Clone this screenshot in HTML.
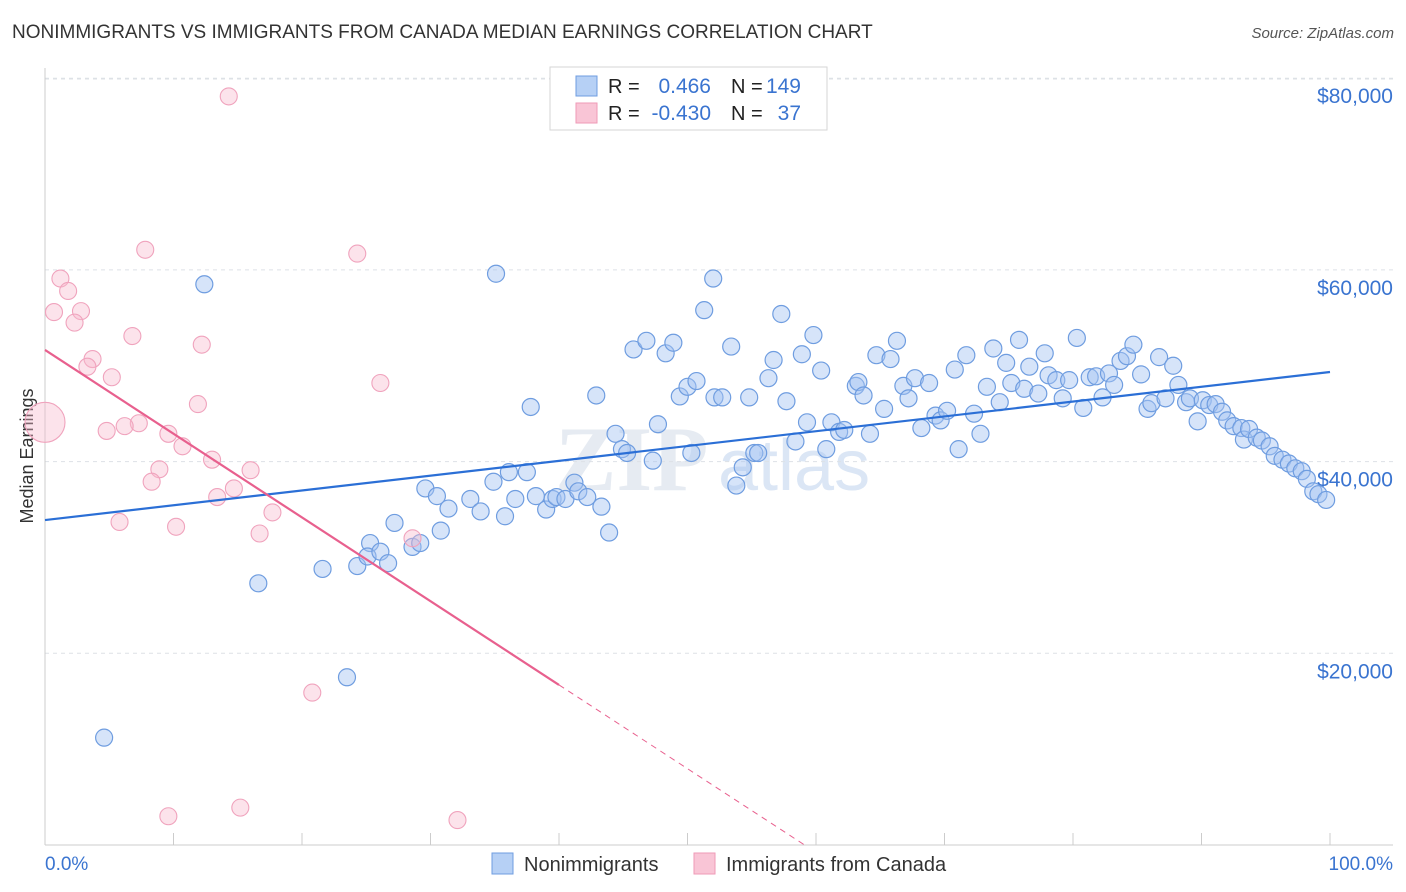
<!DOCTYPE html>
<html><head><meta charset="utf-8"><style>
body{margin:0;background:#fff;font-family:"Liberation Sans",sans-serif;}
#wrap{position:relative;width:1406px;height:892px;overflow:hidden;}
.t{position:absolute;white-space:nowrap;}
</style></head><body>
<div id="wrap">
<div class="t" style="left:12px;top:22px;font-size:19px;color:#333;">NONIMMIGRANTS VS IMMIGRANTS FROM CANADA MEDIAN EARNINGS CORRELATION CHART</div>
<div class="t" style="right:12px;top:25px;font-size:15px;color:#555;font-style:italic">Source: ZipAtlas.com</div>
<svg id="svg" width="1406" height="892" style="position:absolute;left:0;top:0"></svg>
</div>
<script>
const xTicks=[0,10,20,30,40,50,60,70,80,90,100];
const yTicks=[20000,40000,60000,80000];
const yTickLabels=["$20,000","$40,000","$60,000","$80,000"];
const blueX=[4.6,12.4,16.6,21.6,23.5,24.3,25.3,25.1,26.1,26.7,27.2,28.6,29.2,29.6,30.5,30.8,31.4,33.1,33.9,34.9,35.1,35.8,36.1,36.6,37.5,37.8,38.2,39.0,39.5,39.8,40.5,41.2,41.5,42.2,43.3,43.9,42.9,44.4,44.9,45.3,45.8,46.8,47.3,47.7,48.3,48.9,49.4,50.0,50.3,50.7,51.3,52.0,52.1,52.7,53.4,53.8,54.3,54.8,55.2,55.5,56.3,56.7,57.3,57.7,58.4,58.9,59.3,59.8,60.4,60.8,61.2,61.8,62.2,63.1,63.3,63.7,64.2,64.7,65.3,65.8,66.3,66.8,67.2,67.7,68.2,68.8,69.3,69.7,70.2,70.8,71.1,71.7,72.3,72.8,73.3,73.8,74.3,74.8,75.2,75.8,76.2,76.6,77.3,77.8,78.1,78.7,79.2,79.7,80.3,80.8,81.3,81.8,82.3,82.8,83.2,83.7,84.2,84.7,85.3,85.8,86.1,86.7,87.2,87.8,88.2,88.8,89.1,89.7,90.1,90.6,91.1,91.6,92.0,92.5,93.1,93.3,93.7,94.3,94.7,95.3,95.7,96.3,96.8,97.3,97.8,98.2,98.7,99.1,99.7];
const blueY=[11.2,58.5,27.3,28.8,17.5,29.1,31.5,30.1,30.6,29.4,33.6,31.1,31.5,37.2,36.4,32.8,35.1,36.1,34.8,37.9,59.6,34.3,38.9,36.1,38.9,45.7,36.4,35.0,36.1,36.3,36.1,37.8,36.9,36.3,35.3,32.6,46.9,42.9,41.3,40.9,51.7,52.6,40.1,43.9,51.3,52.4,46.8,47.8,40.9,48.4,55.8,59.1,46.7,46.7,52.0,37.5,39.4,46.7,40.9,40.9,48.7,50.6,55.4,46.3,42.1,51.2,44.1,53.2,49.5,41.3,44.1,43.1,43.3,47.9,48.3,46.9,42.9,51.1,45.5,50.7,52.6,47.9,46.6,48.7,43.5,48.2,44.8,44.3,45.3,49.6,41.3,51.1,45.0,42.9,47.8,51.8,46.2,50.3,48.2,52.7,47.6,49.9,47.1,51.3,49.0,48.5,46.6,48.5,52.9,45.6,48.8,48.9,46.7,49.2,48.0,50.5,51.0,52.2,49.1,45.5,46.1,50.9,46.6,50.0,48.0,46.2,46.6,44.2,46.4,45.9,46.0,45.2,44.3,43.7,43.5,42.3,43.4,42.5,42.2,41.6,40.6,40.2,39.8,39.3,39.0,38.2,36.9,36.6,36.0];
const pinkX=[14.3,7.8,24.3,1.2,1.8,0.7,2.8,2.3,6.8,12.2,3.7,3.3,5.2,26.1,11.9,7.3,6.2,4.8,9.6,10.7,13.0,8.9,16.0,8.3,14.7,13.4,17.7,5.8,10.2,16.7,28.6,20.8,9.6,15.2,32.1,0.0];
const pinkY=[78.1,62.1,61.7,59.1,57.8,55.6,55.7,54.5,53.1,52.2,50.7,49.9,48.8,48.2,46.0,44.0,43.7,43.2,42.9,41.6,40.2,39.2,39.1,37.9,37.2,36.3,34.7,33.7,33.2,32.5,32.0,15.9,3.0,3.9,2.6,44.1];
const blueTrend=[33900,49350];
const pinkTrend=[51650,16700];
const pinkSolidEnd=40, pinkDashEnd=59.1;

const NS="http://www.w3.org/2000/svg";
const svg=document.getElementById('svg');
const X0=45,X1=1330,YB=845,PXPER=191.7/20000;
const sx=v=>X0+(X1-X0)*v/100;
const sy=v=>YB-v*PXPER;
function mk(tag,attrs,parent){const e=document.createElementNS(NS,tag);for(const k in attrs)e.setAttribute(k,attrs[k]);(parent||svg).appendChild(e);return e;}

let wm=mk('text',{x:555,y:490,'font-size':92,'font-family':'Liberation Serif,serif','font-weight':'bold',fill:'#e6ebf2'});
wm.textContent='ZIP';


let wm2=mk('text',{x:718,y:490,'font-size':72,'font-family':'Liberation Sans,sans-serif',fill:'#dbe6f5'});
wm2.textContent='atlas';



yTicks.forEach((v,i)=>{
  let g=mk('line',{x1:X0,x2:1393,y1:sy(v),y2:sy(v),stroke:'#dde1e6','stroke-dasharray':'4,4'});
  
  
  let t=mk('text',{x:1393,y:sy(v)+25,'text-anchor':'end','font-size':21,fill:'#3a74d0','font-family':'Liberation Sans,sans-serif'});
  t.textContent=yTickLabels[i];
  
  
});
let tg=mk('line',{x1:X0,x2:1393,y1:79,y2:79,stroke:'#dde1e6','stroke-dasharray':'4,4'});


let ya=mk('line',{x1:X0,x2:X0,y1:68,y2:YB,stroke:'#ccc'});


let xa=mk('line',{x1:X0,x2:1393,y1:YB,y2:YB,stroke:'#ccc'});


xTicks.forEach(v=>{
  let t=mk('line',{x1:sx(v),x2:sx(v),y1:YB,y2:YB-12,stroke:'#ccc'});
  
  
});
let xl0=mk('text',{x:45,y:870,'font-size':19,fill:'#3a74d0','font-family':'Liberation Sans,sans-serif'});
xl0.textContent='0.0%';


let xl1=mk('text',{x:1393,y:870,'text-anchor':'end','font-size':19,fill:'#3a74d0','font-family':'Liberation Sans,sans-serif'});
xl1.textContent='100.0%';


let yt=mk('text',{x:33,y:456,'text-anchor':'middle','font-size':18,fill:'#333',transform:'rotate(-90 33 456)','font-family':'Liberation Sans,sans-serif'});
yt.textContent='Median Earnings';



blueX.forEach((x,i)=>{
  let c=mk('circle',{cx:sx(x),cy:sy(blueY[i]*1000),r:8.5,fill:'rgba(164,196,242,0.45)',stroke:'#6f9de0','stroke-width':1.2});
  
  
});
pinkX.forEach((x,i)=>{
  let r=(i===pinkX.length-1)?20:8.5;
  let c=mk('circle',{cx:sx(x),cy:sy(pinkY[i]*1000),r:r,fill:'rgba(248,186,206,0.4)',stroke:'#f0a3bd','stroke-width':1.1});
  
  
});
let bl=mk('line',{x1:sx(0),y1:sy(blueTrend[0]),x2:sx(100),y2:sy(blueTrend[1]),stroke:'#2b6fd6','stroke-width':2.2});


const pslope=(pinkTrend[1]-pinkTrend[0])/pinkSolidEnd;
let pl=mk('line',{x1:sx(0),y1:sy(pinkTrend[0]),x2:sx(pinkSolidEnd),y2:sy(pinkTrend[1]),stroke:'#e8608e','stroke-width':2.2});


let pd=mk('line',{x1:sx(pinkSolidEnd),y1:sy(pinkTrend[1]),x2:sx(pinkDashEnd),y2:sy(pinkTrend[0]+pslope*pinkDashEnd),stroke:'#e8608e','stroke-width':1,'stroke-dasharray':'6,5'});



let lg=mk('rect',{x:550,y:67,width:277,height:63,fill:'#fff',stroke:'#d6d6d6'});


const rows=[["0.466","149",'rgba(164,196,242,0.8)','#6f9de0'],["-0.430","37",'rgba(248,182,204,0.8)','#ef9ab7']];
rows.forEach((r,i)=>{
  const y=86+i*27;
  let s=mk('rect',{x:576,y:y-10,width:21,height:20,fill:r[2],stroke:r[3]});
  
  
  let t1=mk('text',{x:608,y:y+7,'font-size':20,fill:'#222'});t1.textContent='R =';
  
  
  let t2=mk('text',{x:711,y:y+7,'text-anchor':'end','font-size':21,fill:'#3a74d0'});t2.textContent=r[0];
  
  
  let t3=mk('text',{x:731,y:y+7,'font-size':20,fill:'#222'});t3.textContent='N =';
  
  
  let t4=mk('text',{x:801,y:y+7,'text-anchor':'end','font-size':21,fill:'#3a74d0'});t4.textContent=r[1];
  
  
});
[[492,'Nonimmigrants','rgba(164,196,242,0.8)','#6f9de0','legend-nonimmigrants'],[694,'Immigrants from Canada','rgba(248,182,204,0.8)','#ef9ab7','legend-immigrants-canada']].forEach(l=>{
  let s=mk('rect',{x:l[0],y:853,width:21,height:21,fill:l[2],stroke:l[3]});
  
  
  let t=mk('text',{x:l[0]+32,y:871,'font-size':20,fill:'#333'});t.textContent=l[1];
  
  
});
</script>
</body></html>
